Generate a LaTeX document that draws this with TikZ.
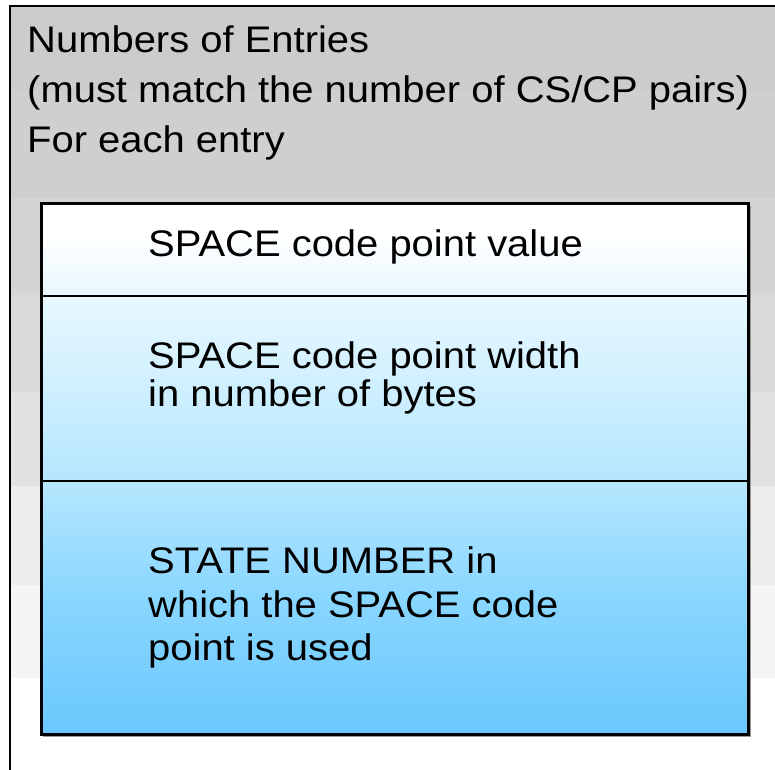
\documentclass[tikz,border=0pt]{standalone}
\usepackage{fontspec}
\setmainfont{Liberation Sans}[FakeStretch=1.08]
\definecolor{fadeA}{RGB}{106,200,253}
\definecolor{fadeB}{RGB}{136,214,255}
\definecolor{fadeC}{RGB}{180,230,254}
\definecolor{fadeD}{RGB}{208,240,255}
\definecolor{fadeE}{RGB}{232,248,255}
% the drawn area covers the 25bp..75bp part of the shading
\pgfdeclareverticalshading{bluefade}{100bp}{%
  color(0bp)=(fadeA);
  color(25bp)=(fadeA);
  color(37.5bp)=(fadeB);
  color(48.5bp)=(fadeC);
  color(58bp)=(fadeD);
  color(66.5bp)=(fadeE);
  color(72bp)=(white);
  color(100bp)=(white)}
\begin{document}
\begin{tikzpicture}[x=1pt,y=-1pt,
  label/.style={anchor=base west,inner sep=0pt,font=\fontsize{37}{44}\selectfont}]
\useasboundingbox (0,0) rectangle (775,769);
\clip (0,0) rectangle (775,769);
\fill[white] (0,0) rectangle (775,769);
% stepped grey fill of the outer frame
\foreach \ya/\yb/\g in {6/90/204,90/198/207,198/295/212,295/392/218,392/486/226,486/585/236,585/678/245}{
  \definecolor{bandc}{RGB}{\g,\g,\g}
  \fill[bandc] (10,\ya) rectangle (790,\yb);
}
\draw[line width=2.5pt] (10,6) rectangle (800,800);
% header text
\node[label] (h1) at (27,52) {Numbers of Entries};
\node[label] (h2) at (27,102) {(must match the number of CS/CP pairs)};
\node[label] (h3) at (27,152) {For each entry};
% entry record box
\fill[black!40] (43,206) rectangle (751,737);
\shade[shading=bluefade] (41,203) rectangle (748,734);
\draw[line width=1.6pt] (41,296) -- (748,296);
\draw[line width=1.6pt] (41,481) -- (748,481);
\draw[line width=3pt] (41,203) rectangle (748,734);
\node[label] (a1) at (148,256) {SPACE code point value};
\node[label] (b1) at (148,368) {SPACE code point width};
\node[label] (b2) at (148,406) {in number of bytes};
\node[label] (c1) at (148,573) {STATE NUMBER in};
\node[label] (c2) at (148,617) {which the SPACE code};
\node[label] (c3) at (148,660) {point is used};
\end{tikzpicture}
\end{document}
